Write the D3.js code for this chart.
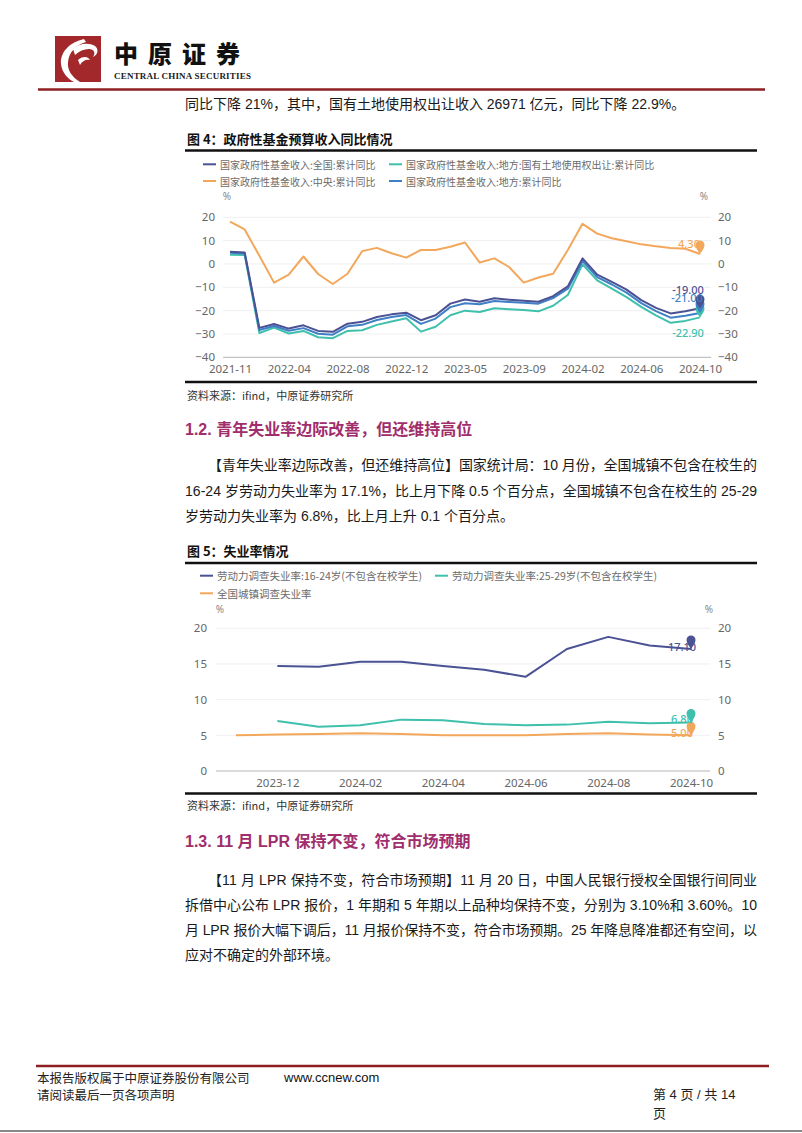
<!DOCTYPE html>
<html><head><meta charset="utf-8">
<script src="https://cdn.jsdelivr.net/npm/d3@7"></script>
<style>body{margin:0;background:#fff}svg{display:block}</style>
</head><body>
<script>
// ================= DATA =================
const fundCategories = ["2021-11","2021-12","2022-02","2022-03","2022-04","2022-05","2022-06","2022-07","2022-08","2022-09","2022-10","2022-11","2022-12","2023-02","2023-03","2023-04","2023-05","2023-06","2023-07","2023-08","2023-09","2023-10","2023-11","2023-12","2024-02","2024-03","2024-04","2024-05","2024-06","2024-07","2024-08","2024-09","2024-10"];
const fundNational = [5.2,4.9,-27.4,-25.7,-27.7,-26.3,-28.7,-29.1,-25.6,-24.8,-22.7,-21.6,-20.9,-24.1,-22.0,-17.0,-15.2,-16.2,-14.7,-15.3,-15.8,-16.2,-13.8,-9.6,2.4,-4.6,-7.7,-11.0,-15.5,-18.8,-21.2,-20.3,-19.0];
const fundLocal = [4.8,4.5,-28.3,-26.6,-28.6,-27.5,-29.9,-30.3,-26.7,-26.1,-24.0,-22.7,-21.9,-25.7,-23.4,-18.5,-16.8,-17.3,-15.9,-16.3,-16.6,-17.0,-14.6,-10.6,1.2,-5.6,-8.8,-12.3,-16.8,-20.2,-23.0,-22.2,-21.0];
const fundLand = [4.0,3.8,-29.6,-27.3,-29.8,-28.7,-31.4,-31.8,-28.7,-28.4,-26.1,-24.7,-23.3,-29.0,-26.9,-22.0,-20.0,-20.6,-19.0,-19.4,-19.7,-20.3,-17.9,-13.3,-0.2,-7.0,-10.6,-14.2,-18.4,-22.0,-25.2,-24.4,-22.9];
const fundCentral = [18.1,14.8,3.5,-8.0,-4.6,3.2,-4.3,-8.6,-4.2,5.5,6.9,4.6,2.7,6.0,6.0,7.4,9.2,0.6,2.4,-1.3,-8.0,-5.8,-4.2,6.0,17.2,13.0,11.0,9.7,8.4,7.6,6.8,6.5,4.3];
const fundTickLabels = ["2021-11","2022-04","2022-08","2022-12","2023-05","2023-09","2024-02","2024-06","2024-10"];
const fundYTicks = [-40,-30,-20,-10,0,10,20];
const fundNames = ["国家政府性基金收入:全国:累计同比","国家政府性基金收入:地方:国有土地使用权出让:累计同比","国家政府性基金收入:中央:累计同比","国家政府性基金收入:地方:累计同比"];

const unempCategories = ["2023-11","2023-12","2024-01","2024-02","2024-03","2024-04","2024-05","2024-06","2024-07","2024-08","2024-09","2024-10"];
const unempYouth1624 = [null,14.7,14.6,15.3,15.3,14.7,14.2,13.2,17.1,18.8,17.6,17.1];
const unempYouth2529 = [null,7.0,6.2,6.4,7.2,7.1,6.6,6.4,6.5,6.9,6.7,6.8];
const unempUrban = [5.0,5.1,5.2,5.3,5.2,5.0,5.0,5.0,5.2,5.3,5.1,5.0];
const unempTickLabels = ["2023-12","2024-02","2024-04","2024-06","2024-08","2024-10"];
const unempYTicks = [0,5,10,15,20];
const unempNames = ["劳动力调查失业率:16-24岁(不包含在校学生)","劳动力调查失业率:25-29岁(不包含在校学生)","全国城镇调查失业率"];

// ================= STYLE =================
const C_NAVY = "#4b5294", C_BLUE = "#3f7fc6", C_TEAL = "#3fc0ad", C_ORANGE = "#f3a75b";
const BODY = "'Liberation Sans','Noto Sans CJK SC',sans-serif";
const CJK = "'Noto Sans CJK SC',sans-serif";
const CHART = "'Noto Sans','Noto Sans CJK SC',sans-serif";
const HEAD = "#a02d6c";

const svg = d3.select("body").append("svg").attr("width",802).attr("height",1133)
  .style("background","#fff");

function txt(x, y, s, o = {}) {
  const t = svg.append("text").attr("x", x).attr("y", y).text(s)
    .attr("font-family", o.ff || BODY).attr("font-size", o.fs || 14)
    .attr("fill", o.fill || "#1a1a1a").attr("dominant-baseline", "central");
  if (o.fw) t.attr("font-weight", o.fw);
  if (o.anchor) t.attr("text-anchor", o.anchor);
  if (o.len) t.attr("textLength", o.len).attr("lengthAdjust", "spacing");
  if (o.ls) t.attr("letter-spacing", o.ls);
  return t;
}
function hline(x0, x1, y, color, w) {
  svg.append("line").attr("x1", x0).attr("x2", x1).attr("y1", y).attr("y2", y)
    .attr("stroke", color).attr("stroke-width", w);
}

// ================= HEADER =================
const logo = svg.append("g");
logo.append("rect").attr("x",55).attr("y",36).attr("width",46).attr("height",46).attr("fill","#a3282c");
logo.append("path").attr("d","M84,39 C70,42 60,52 61,64 C62,73 68,79 74,82 L80,82 C72,77 67,70 68,62 C69,52 76,45 86,42 Z").attr("fill","#fff");
logo.append("path").attr("d","M73,49 C78,44 88,42 95,46 C99,49 98,55 93,57 C96,53 94,49 89,49 C84,49 79,51 75,55 Z").attr("fill","#fff");
logo.append("path").attr("d","M78,60 C82,56 88,56 90,60 C86,59 82,61 80,65 Z").attr("fill","#fff");
txt(114, 52.5, "中原证券", {ff: CJK, fs: 24, fw: 900, ls: 10, fill: "#111"});
txt(114, 76, "CENTRAL CHINA SECURITIES", {ff: "'Liberation Serif',serif", fs: 9, fw: "bold", len: 137, fill: "#222"});
hline(38, 765, 89.5, "#8e1f22", 2.5);

txt(185, 104, "同比下降 21%，其中，国有土地使用权出让收入 26971 亿元，同比下降 22.9%。");

// ================= CHART HELPERS =================
function pinPath(x, y) {
  const r = 4.5, h = 9;
  return `M${x},${y} C${x-2},${y-3} ${x-r},${y-h+3} ${x-r},${y-h} A${r},${r} 0 1 1 ${x+r},${y-h} C${x+r},${y-h+3} ${x+2},${y-3} ${x},${y} Z`;
}
function legendItem(x, y, color, label, fs) {
  svg.append("line").attr("x1", x).attr("x2", x + 13).attr("y1", y).attr("y2", y)
    .attr("stroke", color).attr("stroke-width", 2);
  txt(x + 17, y, label, {ff: CJK, fs: fs, fill: "#6b6b6b"});
}
function drawChart(o) {
  const g = svg.append("g");
  const x = d3.scalePoint().domain(o.cats).range(o.xr);
  const y = d3.scaleLinear().domain(o.yd).range(o.yr);
  g.selectAll("line.grid").data(o.yt.filter(v => v !== o.yd[0])).join("line")
    .attr("x1", o.gx[0]).attr("x2", o.gx[1]).attr("y1", d => y(d)).attr("y2", d => y(d))
    .attr("stroke", "#efefef").attr("stroke-width", 1);
  g.append("line").attr("x1", o.gx[0]).attr("x2", o.gx[1]).attr("y1", y(o.yd[0])).attr("y2", y(o.yd[0]))
    .attr("stroke", "#b5b5b5").attr("stroke-width", 1);
  const styleAxis = sel => {
    sel.select(".domain").remove();
    sel.selectAll("text").attr("fill", "#666").attr("font-size", 11.5).attr("font-family", CHART);
  };
  g.append("g").attr("transform", `translate(${o.gx[0]},0)`)
    .call(d3.axisLeft(y).tickValues(o.yt).tickSize(0).tickPadding(o.padL)).call(styleAxis);
  g.append("g").attr("transform", `translate(${o.gx[1]},0)`)
    .call(d3.axisRight(y).tickValues(o.yt).tickSize(0).tickPadding(o.padR)).call(styleAxis);
  g.append("g").attr("transform", `translate(0,${y(o.yd[0])})`)
    .call(d3.axisBottom(x).tickValues(o.xt).tickSize(0).tickPadding(8)).call(styleAxis);
  txt(o.pctL, o.pctY, "%", {ff: CHART, fs: 10, fill: "#888", anchor: "middle"});
  txt(o.pctR, o.pctY, "%", {ff: CHART, fs: 10, fill: "#888", anchor: "middle"});
  const line = d3.line().defined(d => d[1] != null).x(d => x(d[0])).y(d => y(d[1]));
  o.series.forEach(s => {
    g.append("path").datum(o.cats.map((c, i) => [c, s.values[i]]))
      .attr("d", line).attr("fill", "none").attr("stroke", s.color)
      .attr("stroke-width", 2).attr("stroke-linejoin", "round");
  });
  o.series.forEach(s => {
    const last = s.values.length - 1;
    const px = x(o.cats[last]), py = y(s.values[last]);
    txt(px + s.ldx, py + s.ldy, s.values[last].toFixed(2),
      {ff: CHART, fs: 11, fill: s.color, anchor: "middle", fw: 500});
  });
  o.series.forEach(s => {
    const last = s.values.length - 1;
    const px = x(o.cats[last]), py = y(s.values[last]);
    g.append("path").attr("d", pinPath(px, py)).attr("fill", s.color);
  });
}

// ================= FIGURE 4 =================
txt(187, 138.5, "图 4：政府性基金预算收入同比情况", {ff: CJK, fs: 13, fw: "bold", fill: "#111"});
hline(185, 757, 150.5, "#111", 2.5);
legendItem(203, 164.3, C_NAVY, fundNames[0], 10);
legendItem(389, 164.3, C_TEAL, fundNames[1], 10);
legendItem(203, 181, C_ORANGE, fundNames[2], 10);
legendItem(389, 181, C_BLUE, fundNames[3], 10);
drawChart({
  cats: fundCategories, xr: [230, 700], yd: [-40, 20], yr: [357.3, 217.3],
  yt: fundYTicks, xt: fundTickLabels, gx: [223, 711], padL: 8, padR: 7,
  pctL: 227, pctR: 704, pctY: 196,
  series: [
    {values: fundCentral, color: C_ORANGE, ldx: -11, ldy: -10},
    {values: fundLand, color: C_TEAL, ldx: -12, ldy: 15},
    {values: fundLocal, color: C_BLUE, ldx: -13, ldy: -15},
    {values: fundNational, color: C_NAVY, ldx: -12, ldy: -19}
  ]
});
hline(185, 757, 382, "#111", 2.5);
txt(187, 395, "资料来源：ifind，中原证券研究所", {ff: CJK, fs: 11, fill: "#333"});

// ================= SECTION 1.2 =================
txt(185, 429.5, "1.2. 青年失业率边际改善，但还维持高位", {fs: 16, fw: "bold", fill: HEAD});
txt(208, 465, "【青年失业率边际改善，但还维持高位】国家统计局：10 月份，全国城镇不包含在校生的", {len: 549});
txt(185, 491, "16-24 岁劳动力失业率为 17.1%，比上月下降 0.5 个百分点，全国城镇不包含在校生的 25-29", {len: 572});
txt(185, 516, "岁劳动力失业率为 6.8%，比上月上升 0.1 个百分点。");

// ================= FIGURE 5 =================
txt(187, 550.7, "图 5：失业率情况", {ff: CJK, fs: 13, fw: "bold", fill: "#111"});
hline(185, 757, 563, "#111", 2.5);
legendItem(200, 575.7, C_NAVY, unempNames[0], 10.5);
legendItem(435, 575.7, C_TEAL, unempNames[1], 10.5);
legendItem(200, 593.3, C_ORANGE, unempNames[2], 10.5);
drawChart({
  cats: unempCategories, xr: [236, 691], yd: [0, 20], yr: [771, 628.3],
  yt: unempYTicks, xt: unempTickLabels, gx: [216, 710], padL: 9, padR: 8,
  pctL: 220, pctR: 709, pctY: 609,
  series: [
    {values: unempUrban, color: C_ORANGE, ldx: -9, ldy: -3},
    {values: unempYouth2529, color: C_TEAL, ldx: -9, ldy: -4},
    {values: unempYouth1624, color: C_NAVY, ldx: -9, ldy: -2}
  ]
});
hline(185, 757, 793.5, "#111", 2.5);
txt(187, 804.5, "资料来源：ifind，中原证券研究所", {ff: CJK, fs: 11, fill: "#333"});

// ================= SECTION 1.3 =================
txt(185, 841.7, "1.3. 11 月 LPR 保持不变，符合市场预期", {fs: 16, fw: "bold", fill: HEAD});
txt(208, 880, "【11 月 LPR 保持不变，符合市场预期】11 月 20 日，中国人民银行授权全国银行间同业", {len: 549});
txt(185, 905, "拆借中心公布 LPR 报价，1 年期和 5 年期以上品种均保持不变，分别为 3.10%和 3.60%。10", {len: 572});
txt(185, 930, "月 LPR 报价大幅下调后，11 月报价保持不变，符合市场预期。25 年降息降准都还有空间，以", {len: 572});
txt(185, 955, "应对不确定的外部环境。");

// ================= FOOTER =================
hline(36, 769, 1066, "#8e1f22", 2.5);
txt(37, 1077, "本报告版权属于中原证券股份有限公司", {ff: CJK, fs: 12.5, fill: "#222"});
txt(284, 1077, "www.ccnew.com", {fs: 13, fill: "#111"});
txt(37, 1094, "请阅读最后一页各项声明", {ff: CJK, fs: 12.5, fill: "#222"});
txt(653, 1094, "第 4 页 / 共 14", {fs: 13, fill: "#222"});
txt(653, 1112, "页", {ff: CJK, fs: 13, fill: "#222"});
hline(0, 802, 1131, "#888", 2);
</script>
</body></html>
